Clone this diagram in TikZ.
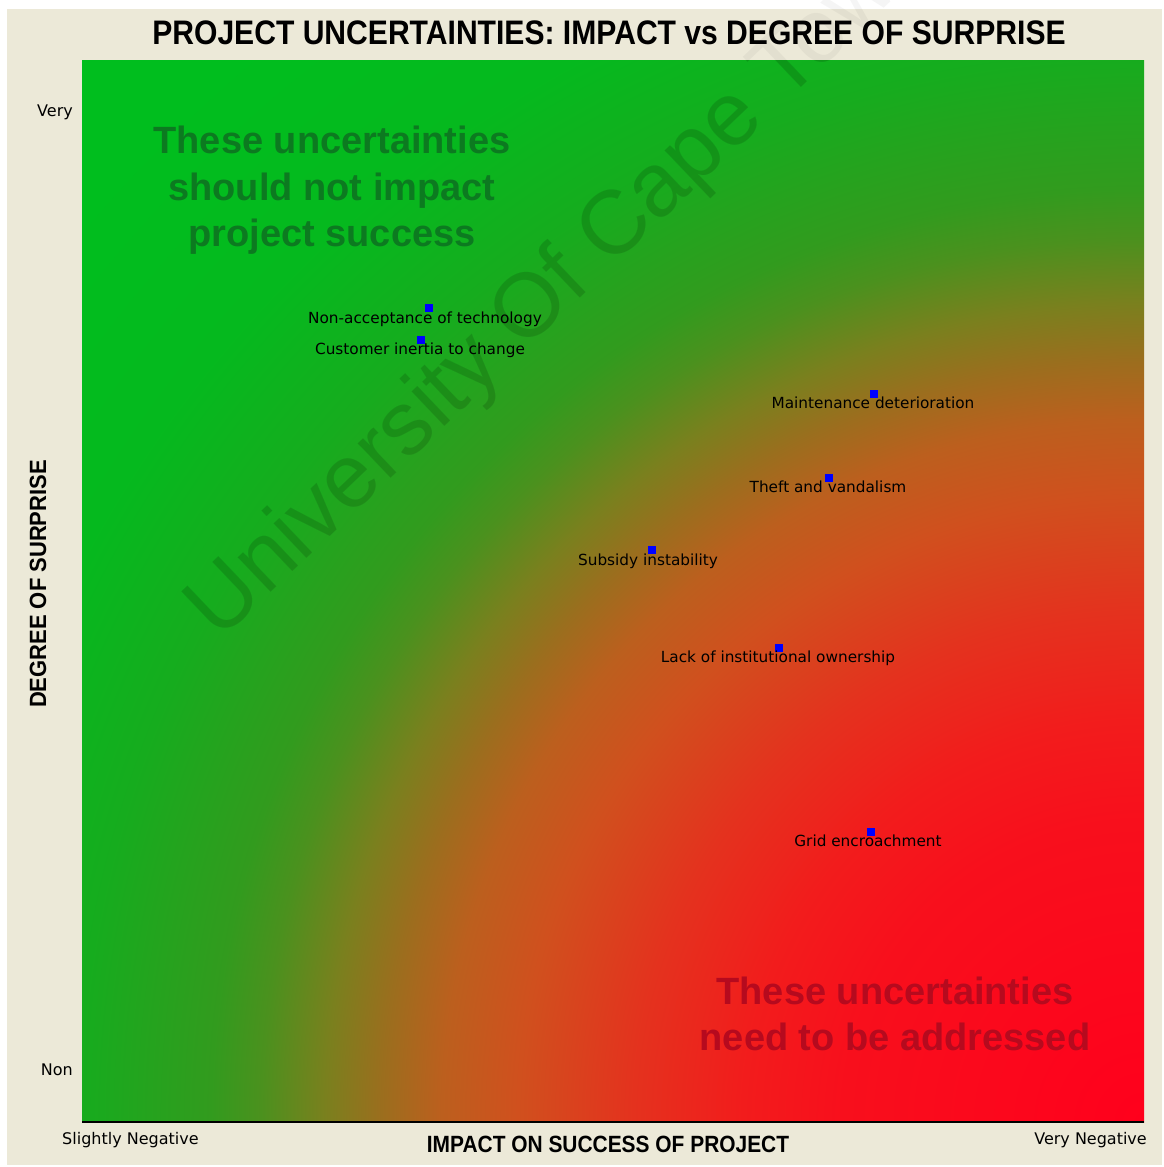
\documentclass[tikz,border=0pt]{standalone}
\usepackage{fontspec}
\setmainfont{Liberation Sans}
\newfontfamily\labfont{DejaVu Sans}
\usetikzlibrary{positioning}
\definecolor{beige}{RGB}{236,233,216}
\definecolor{ptblue}{RGB}{0,0,255}
\definecolor{gtext}{RGB}{12,122,32}
\definecolor{rtext}{RGB}{182,10,30}
\definecolor{sA}{RGB}{255,0,28}
\definecolor{sB}{RGB}{248,15,28}
\definecolor{sC}{RGB}{242,28,28}
\definecolor{sD}{RGB}{228,50,30}
\definecolor{sE}{RGB}{208,80,30}
\definecolor{sF}{RGB}{188,95,30}
\definecolor{sG}{RGB}{155,110,30}
\definecolor{sH}{RGB}{122,128,30}
\definecolor{sI}{RGB}{75,145,30}
\definecolor{sJ}{RGB}{50,155,30}
\definecolor{sK}{RGB}{22,172,30}
\definecolor{sL}{RGB}{5,185,30}
\definecolor{sM}{RGB}{0,190,30}
\pgfdeclareradialshading{riskshade}{\pgfpoint{0bp}{0bp}}{%
color(0bp)=(sA); color(300bp)=(sB); color(400bp)=(sC); color(509bp)=(sD);
color(624bp)=(sE); color(700bp)=(sF); color(760bp)=(sG); color(816bp)=(sH);
color(880bp)=(sI); color(930bp)=(sJ); color(1062bp)=(sK); color(1200bp)=(sL);
color(1400bp)=(sM); color(1600bp)=(sM)}
\tikzset{
  ptmark/.style={fill=ptblue, draw=none, minimum size=8pt, inner sep=0pt, outer sep=0pt},
  ptlabel/.style={font=\labfont\fontsize{15.3}{16}\selectfont, text=black, inner sep=0pt, anchor=base},
  axend/.style={font=\labfont\fontsize{16}{17}\selectfont, text=black, inner sep=0pt},
  bigg/.style={font=\fontsize{38}{40}\bfseries\selectfont, text=gtext, inner sep=0pt, anchor=base},
  bigr/.style={font=\fontsize{38}{40}\bfseries\selectfont, text=rtext, inner sep=0pt, anchor=base},
  wmark/.style={font=\fontsize{90}{90}\selectfont, text=black, rotate=43.6, inner sep=0pt}
}
\begin{document}
\begin{tikzpicture}[x=1pt,y=-1pt]
\useasboundingbox (0,0) rectangle (1164,1167);
\fill[white] (0,0) rectangle (1164,1167);
\fill[beige] (7,9) rectangle (1162,1165);
% gradient plot area
\begin{scope}
  \clip (82,60) rectangle (1144,1122);
  \node[inner sep=0pt, outer sep=0pt] (shade) at (1144,1122) {\pgfuseshading{riskshade}};
  \node[wmark, opacity=0.10] (wmin) at (562,283) {University Of Cape Town};
\end{scope}
\node[wmark, opacity=0.04] (wm) at (562,283) {University Of Cape Town};
% axis line
\coordinate (xl) at (82,1122);
\coordinate (xr) at (1144,1122);
\draw[line width=2pt, black] (xl) -- (xr);
% titles
\node[inner sep=0pt, font=\fontsize{34}{36}\bfseries\selectfont] (title) at (609,33)
  {\scalebox{0.885}[1]{PROJECT UNCERTAINTIES: IMPACT vs DEGREE OF SURPRISE}};
\node[inner sep=0pt, font=\fontsize{23.5}{25}\bfseries\selectfont] (xtitle) at (608,1144)
  {\scalebox{0.89}[1]{IMPACT ON SUCCESS OF PROJECT}};
\node[inner sep=0pt, rotate=90, font=\fontsize{23.5}{25}\bfseries\selectfont] (ytitle) at (38,584)
  {\scalebox{0.935}[1]{DEGREE OF SURPRISE}};
% axis end labels
\node[axend, anchor=base east] (very) at (73,116) {Very};
\node[axend, anchor=base east] (non) at (73,1075) {Non};
\node[axend, anchor=base west] (slneg) at (62,1144) {Slightly Negative};
\node[axend, anchor=base east] (vneg) at (1147,1144) {Very Negative};
% region texts
\node[bigg] (g1) at (332,153) {These uncertainties};
\node[bigg] (g2) at (332,200) {should not impact};
\node[bigg] (g3) at (332,246) {project success};
\node[bigr] (r1) at (895,1004) {These uncertainties};
\node[bigr] (r2) at (895,1050) {need to be addressed};
% points
\node[ptmark] (p1) at (429,308) {};
\node[ptlabel] (l1) at (425,323) {Non-acceptance of technology};
\node[ptmark] (p2) at (421,340) {};
\node[ptlabel] (l2) at (420,354) {Customer inertia to change};
\node[ptmark] (p3) at (874,394) {};
\node[ptlabel] (l3) at (873,408) {Maintenance deterioration};
\node[ptmark] (p4) at (829,478) {};
\node[ptlabel] (l4) at (828,492) {Theft and vandalism};
\node[ptmark] (p5) at (652,550) {};
\node[ptlabel] (l5) at (648,565) {Subsidy instability};
\node[ptmark] (p6) at (779,648) {};
\node[ptlabel] (l6) at (778,662) {Lack of institutional ownership};
\node[ptmark] (p7) at (871,832) {};
\node[ptlabel] (l7) at (868,846) {Grid encroachment};
\end{tikzpicture}
\end{document}
